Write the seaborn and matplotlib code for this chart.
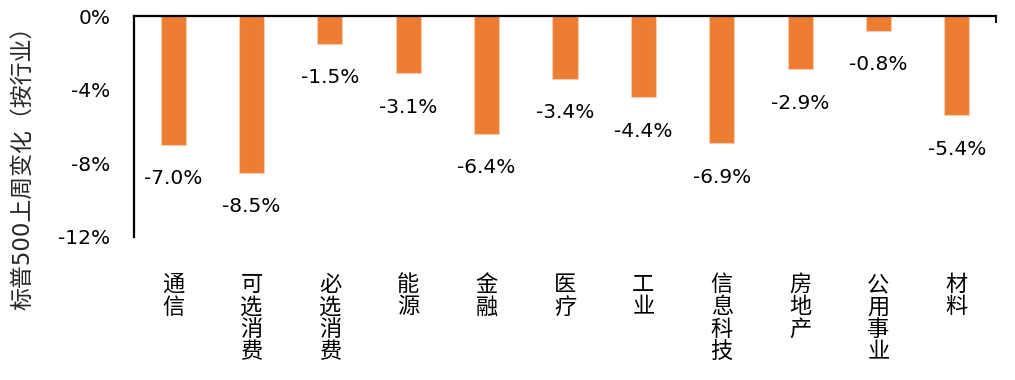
import matplotlib
matplotlib.use("Agg")
import matplotlib.pyplot as plt
import matplotlib.transforms as mtransforms
import seaborn as sns
import pandas as pd

categories = ["通信", "可选消费", "必选消费", "能源", "金融", "医疗", "工业", "信息科技", "房地产", "公用事业", "材料"]
values = [-7.0, -8.5, -1.5, -3.1, -6.4, -3.4, -4.4, -6.9, -2.9, -0.8, -5.4]
value_labels = ["-7.0%", "-8.5%", "-1.5%", "-3.1%", "-6.4%", "-3.4%", "-4.4%", "-6.9%", "-2.9%", "-0.8%", "-5.4%"]
y_ticks = [0, -4, -8, -12]
y_tick_labels = ["0%", "-4%", "-8%", "-12%"]
y_label = "标普500上周变化（按行业）"

sns.set_theme(style="white")
plt.rcParams['font.family'] = ['Noto Sans CJK SC', 'DejaVu Sans']
num_family = ['DejaVu Sans', 'Noto Sans CJK SC']

fig = plt.figure(figsize=(10.15, 3.8), dpi=100)
ax = fig.add_axes([134/1015, 1-237/380, (996-134)/1015, 221/380])

df = pd.DataFrame({"cat": categories, "val": values})
sns.barplot(data=df, x="cat", y="val", color="#ED7D31", saturation=1, width=0.32,
            edgecolor="#F8CBAD", linewidth=0.8, ax=ax)

ax.set_xlim(-0.5, len(categories) - 0.5)
ax.set_ylim(-12, 0)
ax.set_yticks(y_ticks)
ax.set_yticklabels(y_tick_labels, fontsize=14.5, color="black", family=num_family)
ax.tick_params(axis="y", length=0, pad=17)

# top axis with inward ticks
ax.xaxis.set_ticks_position("top")
ax.set_xticks(list(range(len(categories))) + [len(categories) - 0.5])
ax.set_xticklabels([""] * (len(categories) + 1))
ax.tick_params(axis="x", direction="in", length=5, width=1.3, color="black", top=True, bottom=False)
ax.set_xlabel("")
ax.set_ylabel("")

for side in ["right", "bottom"]:
    ax.spines[side].set_visible(False)
for side in ["left", "top"]:
    ax.spines[side].set_color("black")
    ax.spines[side].set_linewidth(1.6)

# value labels
for i, (v, lab) in enumerate(zip(values, value_labels)):
    ax.annotate(lab, xy=(i, v), xytext=(0, -24.5), textcoords="offset points",
                ha="center", va="center", fontsize=14.5, color="black", family=num_family)

# category labels (vertical stacked)
trans = mtransforms.blended_transform_factory(ax.transData, ax.transAxes)
for i, c in enumerate(categories):
    ax.text(i, -36/221, "\n".join(c), transform=trans, ha="center", va="top",
            fontsize=16, color="black", linespacing=0.97)

fig.text(23/1015, 1-162/380, y_label, rotation=90, ha="center", va="center",
         fontsize=16.5, color="#262626", family=num_family)

fig.savefig("out.png", dpi=100)
